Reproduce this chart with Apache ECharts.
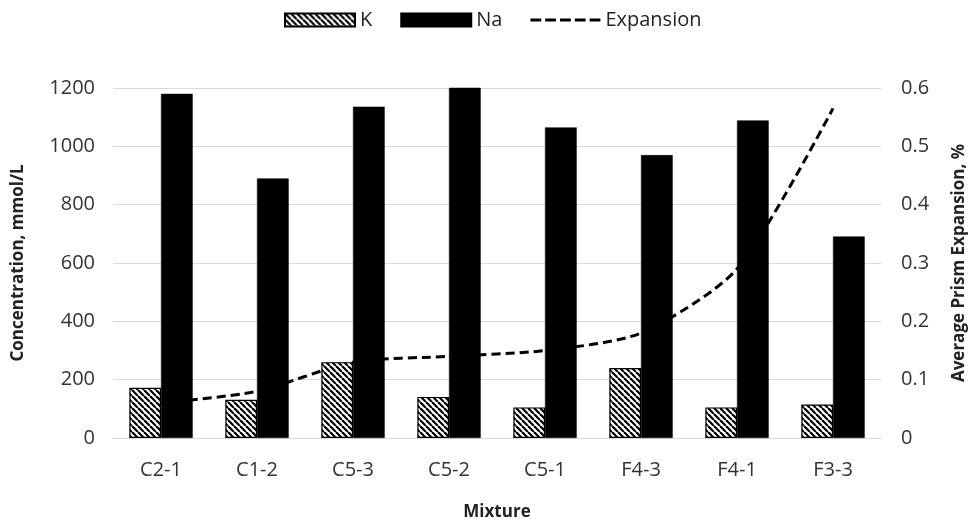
<!DOCTYPE html>
<html>
<head>
<meta charset="utf-8">
<script src="https://cdn.jsdelivr.net/npm/echarts@6/dist/echarts.min.js"></script>
<style>html,body{margin:0;padding:0;background:#fff;}#c{width:976px;height:526px;}</style>
</head>
<body>
<div id="c"></div>
<script>
var categories = ['C2-1','C1-2','C5-3','C5-2','C5-1','F4-3','F4-1','F3-3'];
var kValues = [172, 131, 260, 141, 105, 240, 105, 115];
var naValues = [1180, 890, 1136, 1205, 1065, 970, 1089, 691];
var expansionValues = [0.06, 0.08, 0.13, 0.14, 0.15, 0.18, 0.29, 0.565];
var leftTicks = {min: 0, max: 1200, interval: 200};
var rightTicks = {min: 0, max: 0.6, interval: 0.1};

function stripe() {
  var c = document.createElement('canvas');
  c.width = 6; c.height = 6;
  var g = c.getContext('2d');
  g.fillStyle = '#fff'; g.fillRect(0,0,6,6);
  g.strokeStyle = '#000'; g.lineWidth = 2.2;
  for (var o = -6; o <= 6; o += 6) {
    g.beginPath(); g.moveTo(o, 0); g.lineTo(o + 6, 6); g.stroke();
  }
  return c;
}
var pat = {image: stripe(), repeat: 'repeat'};
var FONT = 'Open Sans';
var dashIcon = 'path://M0,0h11v3h-11z M15,0h11v3h-11z M30,0h11v3h-11z M45,0h11v3h-11z M60,0h11v3h-11z';
var chart = echarts.init(document.getElementById('c'));
chart.setOption({
  animation: false,
  textStyle: {fontFamily: FONT},
  legend: {
    top: 5, left: 279, itemWidth: 70, itemHeight: 13, itemGap: 28,
    textStyle: {fontSize: 20, color: '#222', fontFamily: FONT},
    data: [
      {name: 'K', icon: 'rect'},
      {name: 'Na', icon: 'rect'},
      {name: 'Expansion', icon: dashIcon, itemStyle: {color: '#000'}}
    ]
  },
  grid: {left: 113, right: 91, top: 88, bottom: 82},
  xAxis: {
    type: 'category', data: categories,
    name: 'Mixture', nameLocation: 'middle', nameGap: 66,
    nameTextStyle: {fontSize: 17, fontWeight: 'bold', color: '#222', fontFamily: FONT},
    axisLine: {lineStyle: {color: '#d9d9d9', width: 1}},
    axisTick: {show: false},
    axisLabel: {fontSize: 20, color: '#333', margin: 22, fontFamily: FONT}
  },
  yAxis: [
    {
      type: 'value', min: leftTicks.min, max: leftTicks.max, interval: leftTicks.interval,
      name: 'Concentration, mmol/L', nameLocation: 'middle', nameGap: 86, nameRotate: 90,
      nameTextStyle: {fontSize: 17, fontWeight: 'bold', color: '#222', fontFamily: FONT},
      axisLine: {show: false}, axisTick: {show: false},
      axisLabel: {fontSize: 20, color: '#333', margin: 18, fontFamily: FONT,
        formatter: function (v) { return String(v); }},
      splitLine: {lineStyle: {color: '#d9d9d9', width: 1}}
    },
    {
      type: 'value', min: rightTicks.min, max: rightTicks.max, interval: rightTicks.interval,
      name: 'Average Prism Expansion, %', nameLocation: 'middle', nameGap: 70, nameRotate: 90,
      nameTextStyle: {fontSize: 17, fontWeight: 'bold', color: '#222', fontFamily: FONT},
      axisLine: {show: false}, axisTick: {show: false},
      axisLabel: {fontSize: 20, color: '#333', margin: 20, fontFamily: FONT},
      splitLine: {show: false}
    }
  ],
  series: [
    {
      name: 'K', type: 'bar', data: kValues, barWidth: '33%', barGap: '0%', z: 3,
      itemStyle: {color: pat, borderColor: '#000', borderWidth: 1.2}
    },
    {
      name: 'Na', type: 'bar', data: naValues, barWidth: '33%', barGap: '0%', z: 3,
      itemStyle: {color: '#000', borderColor: '#000', borderWidth: 0.5}
    },
    {
      name: 'Expansion', type: 'line', yAxisIndex: 1, data: expansionValues, z: 1,
      smooth: 0.25, symbol: 'none',
      lineStyle: {color: '#000', width: 3, type: [9, 5]},
      itemStyle: {color: '#000'}
    }
  ]
});
</script>
</body>
</html>
